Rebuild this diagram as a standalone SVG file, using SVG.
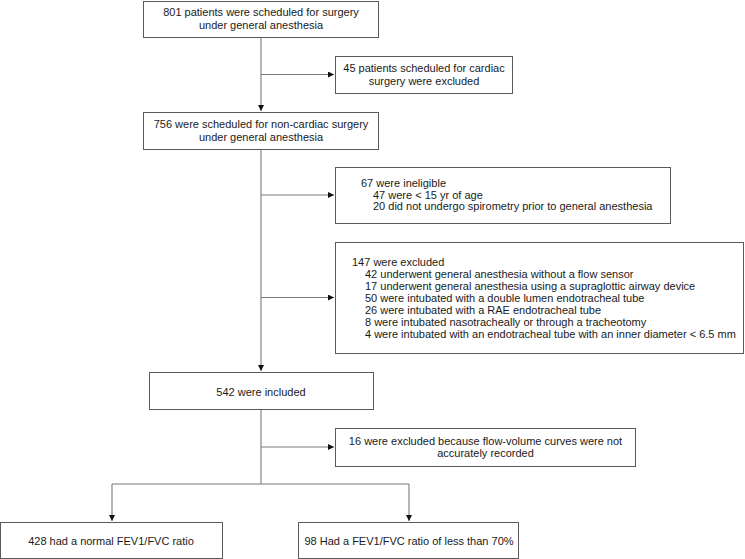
<svg xmlns="http://www.w3.org/2000/svg" width="745" height="559" viewBox="0 0 745 559">
<style>
.box{fill:#fff;stroke:#5a5a5a;stroke-width:1}
.ln{fill:none;stroke:#7a7a7a;stroke-width:1.1}
text{font-family:"Liberation Sans",Arial,sans-serif;font-size:11px;fill:#1a1a1a}
.c{text-anchor:middle}
</style>
<defs>
<marker id="ah" markerUnits="userSpaceOnUse" markerWidth="8" markerHeight="8" refX="6" refY="3" orient="auto">
<path d="M0,0 L6,3 L0,6 z" fill="#111"/>
</marker>
</defs>
<rect width="745" height="559" fill="#fff"/>
<g id="connectors">
<path class="ln" d="M261,37 V111" marker-end="url(#ah)"/>
<path class="ln" d="M261,74.5 H334" marker-end="url(#ah)"/>
<path class="ln" d="M261,149 V371" marker-end="url(#ah)"/>
<path class="ln" d="M261,195 H334" marker-end="url(#ah)"/>
<path class="ln" d="M261,297.5 H334" marker-end="url(#ah)"/>
<path class="ln" d="M261,409 V484"/>
<path class="ln" d="M261,447 H334" marker-end="url(#ah)"/>
<path class="ln" d="M112,484 H409"/>
<path class="ln" d="M112,484 V521" marker-end="url(#ah)"/>
<path class="ln" d="M409,484 V521" marker-end="url(#ah)"/>
</g>
<g id="n1">
<rect class="box" x="143.5" y="1.5" width="235" height="36"/>
<text class="c" x="261" y="16">801 patients were scheduled for surgery</text>
<text class="c" x="261" y="29">under general anesthesia</text>
</g>
<g id="n2">
<rect class="box" x="335.5" y="56.5" width="177" height="37"/>
<text class="c" x="424" y="72">45 patients scheduled for cardiac</text>
<text class="c" x="424" y="85">surgery were excluded</text>
</g>
<g id="n3">
<rect class="box" x="143.5" y="112.5" width="235" height="37"/>
<text class="c" x="261" y="128">756 were scheduled for non-cardiac surgery</text>
<text class="c" x="261" y="141">under general anesthesia</text>
</g>
<g id="n4">
<rect class="box" x="335.5" y="167.5" width="335" height="56"/>
<text x="361" y="187">67 were ineligible</text>
<text x="373" y="198.5">47 were &lt; 15 yr of age</text>
<text x="373" y="210">20 did not undergo spirometry prior to general anesthesia</text>
</g>
<g id="n5">
<rect class="box" x="335.5" y="242.5" width="408" height="111"/>
<text x="352" y="266">147 were excluded</text>
<text x="365" y="278">42 underwent general anesthesia without a flow sensor</text>
<text x="365" y="290">17 underwent general anesthesia using a supraglottic airway device</text>
<text x="365" y="302">50 were intubated with a double lumen endotracheal tube</text>
<text x="365" y="314">26 were intubated with a RAE endotracheal tube</text>
<text x="365" y="325.5">8 were intubated nasotracheally or through a tracheotomy</text>
<text x="365" y="337.5">4 were intubated with an endotracheal tube with an inner diameter &lt; 6.5 mm</text>
</g>
<g id="n6">
<rect class="box" x="149.5" y="372.5" width="224" height="37"/>
<text class="c" x="261" y="396">542 were included</text>
</g>
<g id="n7">
<rect class="box" x="335.5" y="428.5" width="300" height="38"/>
<text class="c" x="485.5" y="445">16 were excluded because flow-volume curves were not</text>
<text class="c" x="485.5" y="457">accurately recorded</text>
</g>
<g id="n8">
<rect class="box" x="0.5" y="522.5" width="222" height="36"/>
<text class="c" x="111" y="545">428 had a normal FEV1/FVC ratio</text>
</g>
<g id="n9">
<rect class="box" x="298.5" y="522.5" width="220" height="36"/>
<text class="c" x="409" y="545">98 Had a FEV1/FVC ratio of less than 70%</text>
</g>
</svg>
